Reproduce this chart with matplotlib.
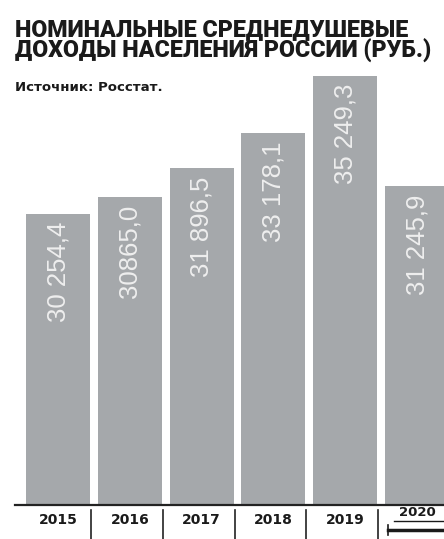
import matplotlib
matplotlib.use("Agg")
import matplotlib.pyplot as plt
from matplotlib.transforms import blended_transform_factory

years = ["2015", "2016", "2017", "2018", "2019", "2020"]
incomes = [30254.4, 30865.0, 31896.5, 33178.1, 35249.3, 31245.9]
value_labels = ["30 254,4", "30865,0", "31 896,5", "33 178,1", "35 249,3", "31 245,9"]

title = "НОМИНАЛЬНЫЕ СРЕДНЕДУШЕВЫЕ\nДОХОДЫ НАСЕЛЕНИЯ РОССИИ (РУБ.)"
source = "Источник: Росстат."

W, H = 444, 539
fig = plt.figure(figsize=(W / 100, H / 100), dpi=100)
ax = fig.add_axes([15 / W, 34 / H, (W - 15) / W, (H - 34) / H])

bar_color = "#a5a8ab"
x = list(range(len(years)))
ax.bar(x, incomes, width=0.89, color=bar_color, zorder=2)

ax.set_xlim(-0.6, 5.376)
ax.set_ylim(19711, 19711 + 505 / 0.02763)

for xi, v, lab in zip(x, incomes, value_labels):
    ax.annotate(lab, (xi, v), xytext=(0, -6), textcoords="offset points",
                rotation=90, ha="center", va="top", color="#eeeeee",
                fontsize=18.5, family="Liberation Sans", zorder=3)

for s in ["top", "right", "left"]:
    ax.spines[s].set_visible(False)
ax.spines["bottom"].set_linewidth(1.6)
ax.spines["bottom"].set_color("#222222")
ax.set_xticks([])
ax.set_yticks([])

# year strip under the axis
tr = blended_transform_factory(ax.transData, fig.transFigure)
for xi in x[:-1]:
    ax.plot([xi + 0.46, xi + 0.46], [29 / H, 0], transform=tr, color="#222222",
            lw=1.2, clip_on=False)
for xi, yr in zip(x[:-1], years[:-1]):
    ax.text(xi, 19 / H, yr, transform=tr, ha="center", va="center",
            fontsize=10, fontweight="heavy", color="#1a1a1a")
ax.text(x[-1], 26 / H, years[-1], transform=tr, ha="center", va="center",
        fontsize=9.5, fontweight="heavy", color="#1a1a1a")
ax.plot([x[-1] - 0.32, x[-1] + 0.6], [18 / H, 18 / H], transform=tr,
        color="#1a1a1a", lw=1.0, clip_on=False)
ax.plot([x[-1] - 0.4, x[-1] + 0.6], [9 / H, 9 / H], transform=tr,
        color="#1a1a1a", lw=2.5, clip_on=False)
ax.plot([x[-1] - 0.4, x[-1] - 0.4], [14 / H, 4 / H], transform=tr,
        color="#1a1a1a", lw=1.2, clip_on=False)

# two-line title, fitted to the width of the reference
renderer = fig.canvas.get_renderer()
t = fig.text(15 / W, 1 - 58 / H, title, ha="left", va="baseline",
             fontsize=16, fontweight="black", family="Roboto", color="#1a1a1a",
             linespacing=0.9)
w = t.get_window_extent(renderer).width
t.set_fontsize(16 * 418 / w)

fig.text(15 / W, 1 - 91 / H, source, ha="left", va="baseline",
         fontsize=9.5, fontweight="bold", color="#1a1a1a")

fig.savefig("out.png", dpi=100)
